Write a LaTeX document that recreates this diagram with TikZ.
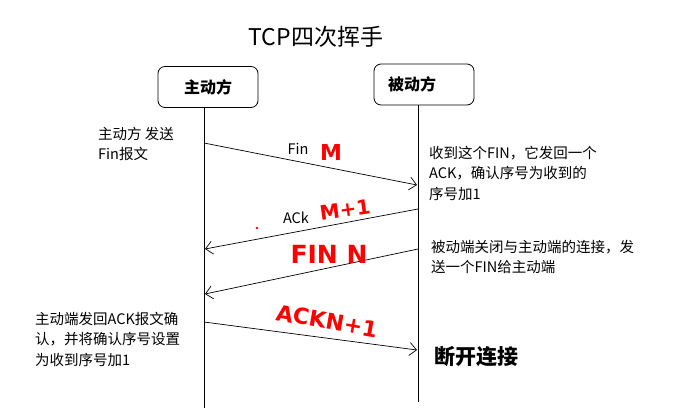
\documentclass[tikz,border=0pt]{standalone}
\usepackage{fontspec}
\setmainfont{Noto Sans CJK SC}
\newfontfamily\scribble{DejaVu Sans}
\usetikzlibrary{arrows.meta}

\tikzset{
  party/.style={draw, rounded corners=7pt, line width=0.8pt, minimum height=41pt, font=\fontsize{16}{18}\selectfont\bfseries},
  lifeline/.style={line width=0.8pt},
  msg/.style={->, line width=0.7pt},
  annot/.style={anchor=north west, inner sep=0pt, align=left, font=\fontsize{14.5}{20.5}\selectfont},
  scrawl/.style={text=red, inner sep=0pt, font=\scribble\bfseries},
}

\begin{document}
\begin{tikzpicture}[x=1pt, y=-1pt, >={Straight Barb[length=7pt,width=13pt]}]
	\useasboundingbox (0,0) rectangle (692,418);

	\node (title) at (316,37) {\fontsize{23}{25}\selectfont TCP四次挥手};

	\node[party, minimum width=100pt] (A) at (208,87) {主动方};
	\node[party, text width=72pt, inner xsep=14pt] (B) at (424,84.5) {被动方};

	% lifelines
	\coordinate (Atop) at (204,108);
	\coordinate (Abot) at (204,408);
	\coordinate (Btop) at (418,105);
	\coordinate (Bbot) at (418,402);
	\draw[lifeline] (Atop) -- (Abot);
	\draw[lifeline] (Btop) -- (Bbot);

	% message ends
	\coordinate (a1) at (204,143);
	\coordinate (b1) at (417,185);
	\coordinate (b2) at (418,209);
	\coordinate (a2) at (205,249);
	\coordinate (b3) at (418,249);
	\coordinate (a3) at (205,294);
	\coordinate (a4) at (204,322);
	\coordinate (b4) at (417,350);

	\draw[msg] (a1) -- (b1);
	\draw[msg] (b2) -- (a2);
	\draw[msg] (b3) -- (a3);
	\draw[msg] (a4) -- (b4);

	\node (fin) at (298,149) {\fontsize{14.5}{16}\selectfont Fin};
	\node (ack) at (296,218) {\fontsize{14.5}{16}\selectfont ACk};

	\node[scrawl, font=\scribble\bfseries\fontsize{22}{24}\selectfont] (m) at (331,152) {M};
	\node[scrawl, rotate=8, font=\scribble\bfseries\fontsize{20}{22}\selectfont] (m1) at (345,210) {M+1};
	\node[scrawl, font=\scribble\bfseries\fontsize{25}{27}\selectfont] (finn) at (329,254) {FIN N};
	\node[scrawl, rotate=-10, font=\scribble\bfseries\fontsize{22}{24}\selectfont] (ackn1) at (327,321) {ACKN+1};
	\fill[red] (257,228) circle (1.4);

	\node[annot] (sendfin) at (98,127) {主动方 发送\\Fin报文};
	\node[annot] (gotfin) at (429,146) {收到这个FIN，它发回一个\\ACK，确认序号为收到的\\序号加1};
	\node[annot] (closeb) at (431,240) {被动端关闭与主动端的连接，发\\送一个FIN给主动端};
	\node[annot] (sendack) at (35,312) {主动端发回ACK报文确\\认，并将确认序号设置\\为收到序号加1};

	\node[anchor=west, inner sep=0pt, font=\fontsize{21}{23}\selectfont\bfseries] (done) at (434,357) {断开连接};
\end{tikzpicture}
\end{document}
